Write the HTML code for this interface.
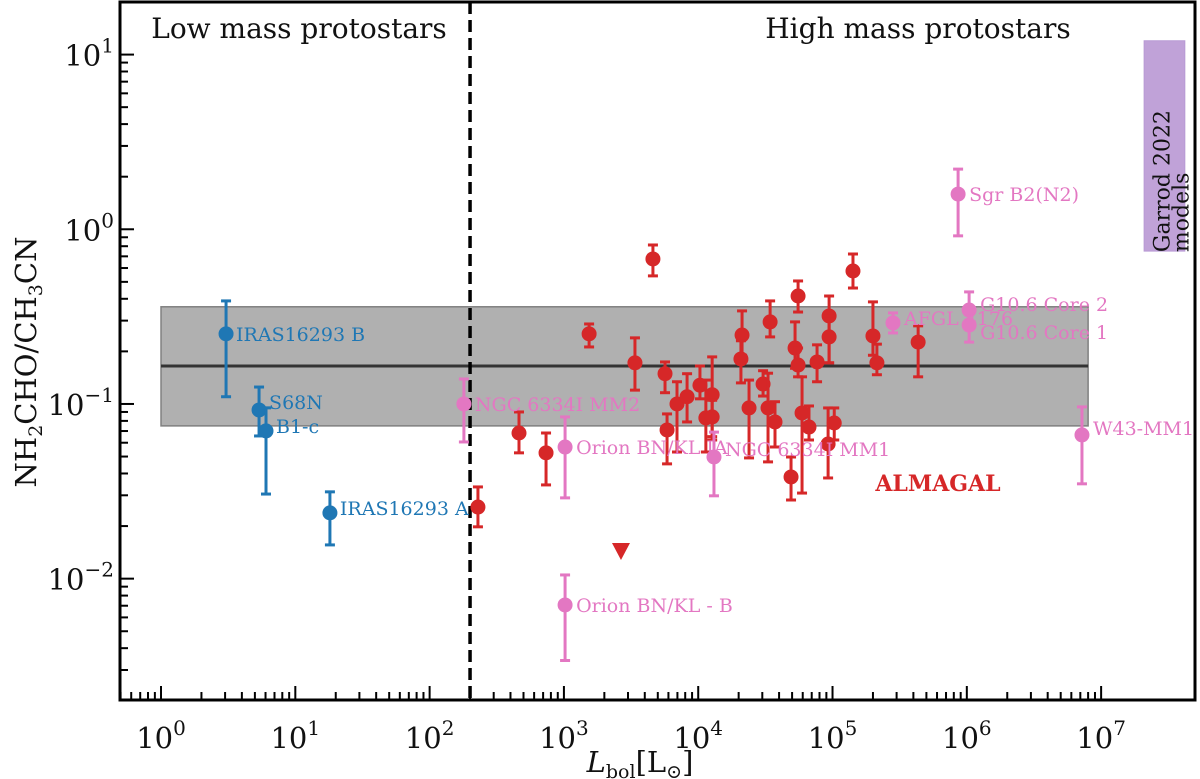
<!DOCTYPE html>
<html><head><meta charset="utf-8"><style>
html,body{margin:0;padding:0;background:#fff;}
svg{display:block;font-family:"DejaVu Serif","Liberation Serif",serif;}
</style></head><body>
<svg id="chart" width="1200" height="779" viewBox="0 0 1200 779"></svg>
<script>
// ---- data ----
const almagalL = [229,463,736,1540,4600,3380,5660,5860,6950,8260,10300,11400,12700,12700,21200,20800,23900,30400,34300,33100,37300,49100,52600,55400,55400,59300,66800,76700,94300,94300,92700,103000,142000,200000,214000,434000];
const almagalR = [0.0257,0.0682,0.0525,0.252,0.676,0.172,0.149,0.071,0.100,0.110,0.128,0.0832,0.113,0.0843,0.248,0.181,0.0949,0.130,0.295,0.0949,0.0789,0.0382,0.209,0.415,0.167,0.0888,0.0738,0.174,0.319,0.242,0.059,0.0778,0.577,0.245,0.172,0.226];
const almagalHi = [0.0335,0.090,0.0682,0.287,0.813,0.239,0.174,0.0877,0.134,0.149,0.165,0.137,0.186,0.105,0.341,0.230,0.137,0.155,0.389,0.150,0.103,0.0497,0.295,0.506,0.209,0.143,0.0974,0.218,0.415,0.319,0.0949,0.0949,0.722,0.384,0.22,0.280];
const almagalLo = [0.0198,0.0525,0.0344,0.212,0.541,0.120,0.116,0.0454,0.0531,0.0789,0.107,0.0531,0.0622,0.065,0.190,0.132,0.0491,0.111,0.242,0.0466,0.0567,0.0282,0.160,0.336,0.143,0.0309,0.0622,0.134,0.172,0.172,0.0377,0.0622,0.461,0.19,0.147,0.143];
const upperL = [2660];
const upperR = [0.0144];

const hmNames = ["NGC 6334I MM2","Orion BN/KL IA","NGC 6334I MM1","Orion BN/KL - B","AFGL 4176","G10.6 Core 2","G10.6 Core 1","W43-MM1","Sgr B2(N2)"];
const hmL = [180,1020,13100,1020,282000,1040000,1040000,7200000,861000];
const hmR = [0.100,0.0567,0.0497,0.00707,0.291,0.345,0.283,0.0665,1.59];
const hmHi = [0.139,0.0843,0.069,0.0105,0.332,0.438,0.33,0.0962,2.21];
const hmLo = [0.0606,0.0290,0.0298,0.0034,0.255,0.29,0.226,0.0349,0.917];

const lmNames = ["IRAS16293 B","S68N","B1-c","IRAS16293 A"];
const lmL = [3.05,5.37,6.05,18.1];
const lmR = [0.252,0.0924,0.0701,0.0238];
const lmHi = [0.389,0.125,0.095,0.0314];
const lmLo = [0.110,0.0656,0.0305,0.0156];

const bandTop = 0.360, bandBottom = 0.0749, bandMedian = 0.165, bandLmax = 8e6;
const divideL = 200;
const garrodL = [2.09e7, 4.2e7], garrodR = [0.75, 12];
const xTicks = [1,10,100,1000,1e4,1e5,1e6,1e7];
const xTickExp = ["0","1","2","3","4","5","6","7"];
const yTicks = [0.01,0.1,1,10];
const yTickExp = ["−2","−1","0","1"];

// ---- axes ----
const X0=120,X1=1195,Y0=2,Y1=700;
const xmin=Math.log10(0.495), xmax=Math.log10(5e7), ymin=Math.log10(0.00202), ymax=Math.log10(20);
const sx=v=>X0+(Math.log10(v)-xmin)/(xmax-xmin)*(X1-X0);
const sy=v=>Y1-(Math.log10(v)-ymin)/(ymax-ymin)*(Y1-Y0);
const NS="http://www.w3.org/2000/svg";
const svg=document.getElementById('chart');
function el(tag,attrs,parent){const e=document.createElementNS(NS,tag);for(const k in attrs)e.setAttribute(k,attrs[k]);(parent||svg).appendChild(e);return e;}

const clip=el('clipPath',{id:'pc'});el('rect',{x:X0,y:Y0,width:X1-X0,height:Y1-Y0},clip);
const plot=el('g',{'clip-path':'url(#pc)'});

// band
let b=el('rect',{x:sx(1),y:sy(bandTop),width:sx(bandLmax)-sx(1),height:sy(bandBottom)-sy(bandTop),fill:'#b0b0b0',stroke:'#808080','stroke-width':1.5},plot);

let m=el('line',{x1:sx(1),x2:sx(bandLmax),y1:sy(bandMedian),y2:sy(bandMedian),stroke:'#333','stroke-width':3},plot);

// garrod
let g=el('rect',{x:sx(garrodL[0]),y:sy(garrodR[1]),width:sx(garrodL[1])-sx(garrodL[0]),height:sy(garrodR[0])-sy(garrodR[1]),fill:'#c0a2d8',stroke:'#b89ad4'},plot);

const gx=(sx(garrodL[0])+sx(garrodL[1]))/2, gyb=sy(garrodR[0])+1;
let gt=el('text',{x:0,y:0,transform:`translate(${gx+8},${gyb}) rotate(-90)`,'text-anchor':'start','font-size':22,fill:'#111'});
gt.innerHTML=`<tspan x="0" dy="-3">Garrod 2022</tspan><tspan x="0" dy="19">models</tspan>`;

// divider
let d=el('line',{x1:sx(divideL),x2:sx(divideL),y1:Y0,y2:Y1,stroke:'#000','stroke-width':3.5,'stroke-dasharray':'12,6'},plot);


function point(L,R,hi,lo,color,name){
  const gg=el('g',{},plot);
  
  const x=sx(L);
  el('line',{x1:x,x2:x,y1:sy(hi),y2:sy(lo),stroke:color,'stroke-width':3},gg);
  el('line',{x1:x-5,x2:x+5,y1:sy(hi),y2:sy(hi),stroke:color,'stroke-width':3},gg);
  el('line',{x1:x-5,x2:x+5,y1:sy(lo),y2:sy(lo),stroke:color,'stroke-width':3},gg);
  el('circle',{cx:x,cy:sy(R),r:7.5,fill:color},gg);
}
for(let i=0;i<almagalL.length;i++) point(almagalL[i],almagalR[i],almagalHi[i],almagalLo[i],'#d62728','almagal-point');
for(let i=0;i<upperL.length;i++){
  const x=sx(upperL[i]),y=sy(upperR[i]);
  let t=el('polygon',{points:`${x-9},${y-8} ${x+9},${y-8} ${x},${y+9}`,fill:'#d62728'},plot);
  
}
const hmDy=[0,0,-8,0,-5,-6,7,-7,0];
for(let i=0;i<hmL.length;i++){
  point(hmL[i],hmR[i],hmHi[i],hmLo[i],'#e377c2','high-mass-point');
  let t=el('text',{x:sx(hmL[i])+11,y:sy(hmR[i])+hmDy[i]+7,'font-size':19,fill:'#e377c2'},plot);
  t.textContent=hmNames[i];
  
}
const lmDy=[0,-8,-5,-5];
for(let i=0;i<lmL.length;i++){
  point(lmL[i],lmR[i],lmHi[i],lmLo[i],'#1f77b4','low-mass-point');
  let t=el('text',{x:sx(lmL[i])+10,y:sy(lmR[i])+lmDy[i]+7,'font-size':19,fill:'#1f77b4'},plot);
  t.textContent=lmNames[i];
  
}
let al=el('text',{x:938,y:491,'text-anchor':'middle','font-size':22,'font-weight':'bold',fill:'#d62728'},plot);
al.textContent='ALMAGAL';

// titles in plot
let t1=el('text',{x:299,y:38,'text-anchor':'middle','font-size':28,fill:'#111'});t1.textContent='Low mass protostars';

let t2=el('text',{x:918,y:38,'text-anchor':'middle','font-size':28,fill:'#111'});t2.textContent='High mass protostars';


// ticks
const tg=el('g',{stroke:'#000','stroke-width':2});
for(let e=0;e<=7;e++)for(let k=2;k<=9;k++){
  const v=k*Math.pow(10,e-1); if(v<0.495||v>5e7) continue;
  const x=sx(v);
  el('line',{x1:x,x2:x,y1:Y1,y2:Y1-8},tg);
}
xTicks.forEach((v,i)=>{
  const x=sx(v);el('line',{x1:x,x2:x,y1:Y1,y2:Y1-14},tg);
  let t=el('text',{x:x,y:Y1+48,'text-anchor':'middle','font-size':29,fill:'#111'});
  t.innerHTML=`10<tspan dy="-13" font-size="20">${xTickExp[i]}</tspan>`;
  
});
for(let e=-3;e<=1;e++)for(let k=2;k<=9;k++){
  const v=k*Math.pow(10,e); if(v<0.00202||v>20) continue;
  const y=sy(v);el('line',{x1:X0,x2:X0+8,y1:y,y2:y},tg);
}
yTicks.forEach((v,i)=>{
  const y=sy(v);el('line',{x1:X0,x2:X0+14,y1:y,y2:y},tg);
  let t=el('text',{x:X0-6,y:y+11,'text-anchor':'end','font-size':29,fill:'#111'});
  t.innerHTML=`10<tspan dy="-13" font-size="20">${yTickExp[i]}</tspan>`;
  
});
let fr=el('rect',{x:X0,y:Y0,width:X1-X0,height:Y1-Y0,fill:'none',stroke:'#000','stroke-width':3});


let xl=el('text',{x:640,y:772,'text-anchor':'middle','font-size':29,fill:'#111'});
xl.innerHTML=`<tspan font-style="italic">L</tspan><tspan font-size="19" dy="6">bol</tspan><tspan dy="-6">[L</tspan><tspan font-size="19" dy="6">⊙</tspan><tspan dy="-6">]</tspan>`;

let yl=el('text',{x:0,y:0,transform:'translate(36,362) rotate(-90)','text-anchor':'middle','font-size':29,fill:'#111'});
yl.innerHTML=`NH<tspan font-size="19" dy="6">2</tspan><tspan dy="-6">CHO/CH</tspan><tspan font-size="19" dy="6">3</tspan><tspan dy="-6">CN</tspan>`;

</script>
</body></html>
